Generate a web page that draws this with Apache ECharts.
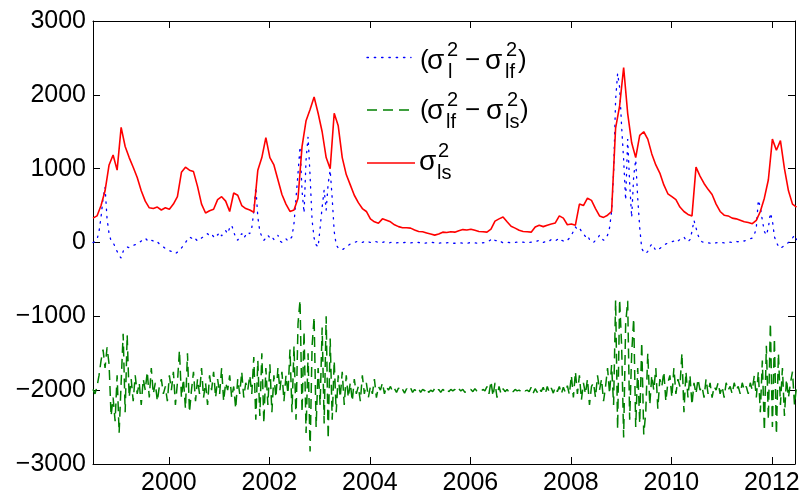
<!DOCTYPE html>
<html>
<head>
<meta charset="utf-8">
<script src="https://cdn.jsdelivr.net/npm/echarts@6/dist/echarts.min.js"></script>
<style>
html,body{margin:0;padding:0;background:#fff;}
#chart{width:804px;height:498px;}
</style>
</head>
<body>
<div id="chart"></div>
<script>
// ---- data ----
const xStart = 1998.49;
const xEnd = 2012.46;
const fineStep = 0.04;   // years between samples for the two difference series
const redStep = 0.08;    // years between samples for sigma_ls^2
const xTickYears = [2000, 2002, 2004, 2006, 2008, 2010, 2012];
const yTicks = [-3000, -2000, -1000, 0, 1000, 2000, 3000];

const blueVals = [
 0, 10, 40, 150, 345, 600, 750, 320, 120, 20,
 0, -60, -120, -180, -210, -120, -80, -60, -70, -50,
 -40, -30, -10, 0, 20, 40, 60, 30, 50, 30,
 20, 0, 10, -20, -40, -60, -80, -100, -110, -120,
 -140, -150, -130, -100, -75, -40, 0, 40, 75, 60,
 30, 50, 20, 40, 60, 80, 100, 120, 90, 110,
 80, 120, 100, 140, 90, 130, 160, 120, 200, 235,
 150, 60, 30, 80, 120, 60, 100, 140, 120, 200,
 420, 750, 345, 150, 80, 30, 60, 100, 60, 80,
 40, 60, 100, 20, 0, 30, 50, 20, 40, 80,
 260, 600, 940, 1300, 700, 400, 1120, 1430, 900, 300,
 60, -30, -60, 200, 480, 710, 440, 800, 980, 600,
 150, -30, -75, -90, -100, -80, -60, -40, -20, -10,
 0, 10, 20, 10, 0, 15, 20, 10, 0, 10,
 20, 10, 0, -10, 0, 10, 0, -10, 0, 10,
 0, -5, 0, 5, -5, 0, 5, 0, -5, 0,
 0, 5, 0, -5, 0, -10, -5, 0, 5, 0,
 -5, 0, -10, -5, 0, -10, -5, 0, -5, -10,
 -10, -5, 0, -5, -10, -5, -10, -5, 0, 0,
 -5, -10, -5, 0, -5, 0, 10, 20, 40, 60,
 30, 20, 0, 10, -5, 0, 5, 0, -5, 0,
 0, 5, 0, 0, 5, 0, -5, 0, 5, 0,
 10, 20, 30, 10, 0, 10, 30, 20, 40, 30,
 20, 40, 60, 30, 20, 40, 30, 60, 100, 150,
 210, 180, 200, 150, 120, 80, 100, 40, 10, 0,
 30, 50, 100, 60, 30, 50, 100, 200, 420, 940,
 1930, 2290, 2100, 1565, 1120, 575, 1400, 800, 340, 900,
 1120, 600, 200, -80, -130, -150, -120, -60, -20, -60,
 -110, -100, -80, -60, -40, -20, -10, 0, 10, 20,
 0, 20, 40, 60, 75, 30, 10, 40, 150, 300,
 200, 100, 40, 10, 0, 5, -5, -10, 0, -10,
 -5, 0, 5, 0, -5, 0, 10, 5, 0, 10,
 15, 10, 20, 30, 20, 30, 40, 50, 60, 100,
 200, 575, 480, 300, 150, 100, 200, 400, 300, 80,
 0, -50, -80, -60, -40, -20, 0, 20, 60, 100,
 40
];

const greenVals = [
 -1990, -2050, -1950, -1800, -1600, -1450, -1700, -1420, -1650, -2350,
 -2100, -2420, -1800, -2580, -1900, -1235, -2300, -1250, -2100, -1850,
 -2150, -1800, -2050, -1900, -2200, -1850, -2000, -1750, -2100, -1700,
 -2050, -1900, -2150, -1950, -1850, -2050, -1950, -2150, -1800, -2000,
 -1750, -2200, -1900, -1460, -2100, -1850, -2250, -1500, -2300, -2000,
 -1750, -2150, -1850, -2050, -1700, -2100, -1900, -2200, -1800, -2000,
 -1750, -2100, -1850, -2050, -1700, -2150, -1900, -2000, -1800, -2100,
 -1950, -2250, -1850, -2050, -1750, -2100, -1900, -2000, -1800, -2050,
 -1550, -2400, -1600, -2350, -1500, -2450, -1700, -2200, -1650, -2300,
 -1800, -2100, -1700, -2000, -1750, -2150, -1800, -2050, -1450, -2300,
 -1400, -2400, -1100, -780, -2300, -1200, -2580, -1500, -2830, -1400,
 -1010, -2500, -1700, -2200, -1150, -2450, -1000, -2660, -1300, -2400,
 -1600, -2300, -1800, -2100, -1750, -2200, -1800, -2100, -1900, -2150,
 -1850, -2050, -1950, -2150, -1800, -2050, -1900, -2100, -1950, -2050,
 -1850, -2100, -1950, -2000, -1900, -2050, -1950, -2000, -1950, -2020,
 -1980, -2030, -1970, -2020, -1990, -2040, -1980, -2010, -1970, -2030,
 -1990, -2020, -1980, -2030, -1990, -2010, -1970, -2030, -2000, -2020,
 -1980, -2020, -1990, -2030, -1990, -2010, -1980, -2020, -1990, -2010,
 -1990, -2020, -1980, -2010, -1990, -2030, -2000, -2010, -1990, -2020,
 -1980, -2010, -2000, -2020, -1990, -2010, -1950, -2050, -1880, -2080,
 -1900, -2100, -1950, -2050, -1980, -2020, -1990, -2030, -2000, -2020,
 -1990, -2010, -2000, -2020, -1990, -2010, -2000, -2020, -1960, -2040,
 -1980, -2030, -1970, -2020, -1960, -2050, -1950, -2030, -1970, -2040,
 -1960, -2020, -1950, -2050, -1960, -2030, -1940, -2060, -1800, -2100,
 -1750, -2050, -1800, -2130, -1900, -2050, -1850, -2200, -1950, -1900,
 -2100, -1800, -2000, -1850, -2150, -1950, -1700, -2050, -1660, -2200,
 -780, -2530, -770, -1400, -2640, -1100, -790, -2400, -1500, -1030,
 -2500, -1700, -2450, -1350, -2600, -2300, -1500, -2200, -1800, -2000,
 -1700, -2250, -1850, -1950, -1750, -2150, -1900, -1800, -2100, -1700,
 -2050, -1850, -1950, -1500, -2300, -1750, -2100, -1800, -2200, -1900,
 -2050, -1850, -2000, -1950, -2100, -1850, -2050, -1900, -2100, -1950,
 -2000, -1900, -2050, -1950, -2100, -1900, -2000, -1950, -2050, -1900,
 -2000, -1950, -2050, -1900, -2000, -1950, -2050, -1900, -2000, -1800,
 -2100, -1750, -2300, -1600, -2550, -1400, -2400, -1090, -2500, -1300,
 -2600, -1500, -2200, -1700, -2350, -1850, -2100, -1900, -1750, -2200,
 -1950
];

const redVals = [
 330, 360, 500, 700, 1050, 1185, 980, 1560, 1300, 1150,
 1020, 880, 700, 560, 470, 460, 480, 440, 470, 450,
 520, 620, 950, 1020, 980, 960, 760, 520, 400, 430,
 450, 580, 620, 560, 420, 670, 640, 500, 460, 440,
 410, 980, 1150, 1420, 1150, 1050, 850, 650, 520, 420,
 440, 600, 1300, 1650, 1800, 1970, 1750, 1500, 1150, 1000,
 1750, 1580, 1150, 920, 780, 640, 540, 460, 420, 320,
 280, 260, 320, 300, 280, 240, 215, 200, 200, 195,
 170, 150, 145, 130, 115, 100, 115, 140, 135, 145,
 140, 160, 175, 170, 180, 165, 150, 145, 140, 180,
 290, 320, 345, 280, 220, 195, 165, 150, 145, 140,
 210, 235, 215, 235, 250, 265, 360, 330, 240, 250,
 235, 520, 500, 600, 570, 460, 360, 340, 370, 420,
 1550, 1850, 2370, 1750, 1350, 1150, 1450, 1500, 1400, 1200,
 1050, 940, 780, 660, 620, 580, 480, 420, 380, 360,
 1020, 900, 800, 720, 650, 520, 420, 370, 360, 330,
 320, 300, 280, 270, 255, 300, 420, 600, 850, 1400,
 1250, 1380, 1000, 700, 520, 480
];

// ---- build chart ----
const toPairs = (vals, step) => vals.map((v, i) => [xStart + i * step, v]);
const FONT = '"Liberation Sans", Arial, Helvetica, sans-serif';
const minusFmt = v => String(v).replace('-', '\u2212');

const BLUE = '#0000ff', GREEN = '#008000', RED = '#ff0000';
const blueStyle = {color: BLUE, width: 1.3, type: [1.4, 5.9], cap: 'round'};
const greenStyle = {color: GREEN, width: 1.5, type: [10, 6]};
const redStyle = {color: RED, width: 1.6, type: 'solid'};

function legendTexts() {
  const els = [];
  const add = (t, x, y, size) => els.push({
    type: 'text', x: x, y: y, z: 100,
    style: {text: t, fontSize: size, fontFamily: FONT, fill: '#000', align: 'left', verticalAlign: 'middle'}
  });
  const M = 26, S = 20;
  // row 1: (σ_l^2 − σ_lf^2)
  let c = 61;
  add('(', 420, c, M); add('\u03c3', 427, c, 28); add('2', 447, c - 11, S); add('l', 448, c + 11, S);
  add('\u2212', 465, c, M); add('\u03c3', 485, c, 28); add('2', 506, c - 11, S); add('lf', 505, c + 11, S);
  add(')', 518, c, M);
  // row 2: (σ_lf^2 − σ_ls^2)
  c = 111;
  add('(', 420, c, M); add('\u03c3', 427, c, 28); add('2', 447, c - 11, S); add('lf', 446, c + 11, S);
  add('\u2212', 465, c, M); add('\u03c3', 486, c, 28); add('2', 507, c - 11, S); add('ls', 505, c + 11, S);
  add(')', 520, c, M);
  // row 3: σ_ls^2
  c = 162;
  add('\u03c3', 419, c, 28); add('2', 438, c - 11, S); add('ls', 437, c + 11, S);
  return els;
}

const graphics = [
  {type: 'line', z: 100, shape: {x1: 367, y1: 57.5, x2: 411, y2: 57.5}, style: {stroke: BLUE, lineWidth: 1.3, lineDash: [1.4, 5.9], lineCap: 'round'}},
  {type: 'line', z: 100, shape: {x1: 367, y1: 110, x2: 415, y2: 110}, style: {stroke: GREEN, lineWidth: 1.5, lineDash: [10, 6]}},
  {type: 'line', z: 100, shape: {x1: 367, y1: 163, x2: 415, y2: 163}, style: {stroke: RED, lineWidth: 1.6}}
].concat(legendTexts());

const axisLineStyle = {show: true, onZero: false, lineStyle: {color: '#000', width: 1}};
const tickStyle = {show: true, inside: true, length: 7, lineStyle: {color: '#000', width: 1}};

const option = {
  animation: false,
  backgroundColor: '#fff',
  grid: {left: 93, right: 9, top: 21, bottom: 34, containLabel: false},
  xAxis: [
    {type: 'value', position: 'bottom', min: xStart, max: xEnd,
     axisLine: axisLineStyle, splitLine: {show: false},
     axisTick: Object.assign({}, tickStyle, {customValues: xTickYears}),
     axisLabel: {customValues: xTickYears, fontSize: 25, fontFamily: FONT, color: '#000', margin: 7,
                 formatter: v => String(Math.round(v))}},
    {type: 'value', position: 'top', min: xStart, max: xEnd,
     axisLine: axisLineStyle, splitLine: {show: false},
     axisTick: Object.assign({}, tickStyle, {customValues: xTickYears}),
     axisLabel: {show: false}}
  ],
  yAxis: [
    {type: 'value', position: 'left', min: -3000, max: 3000, interval: 1000,
     axisLine: axisLineStyle, splitLine: {show: false}, axisTick: tickStyle,
     axisLabel: {fontSize: 25, fontFamily: FONT, color: '#000', margin: 7, formatter: minusFmt}},
    {type: 'value', position: 'right', min: -3000, max: 3000, interval: 1000,
     axisLine: axisLineStyle, splitLine: {show: false}, axisTick: tickStyle,
     axisLabel: {show: false}}
  ],
  series: [
    {name: 'blue', type: 'line', data: toPairs(blueVals, fineStep), showSymbol: false, symbol: 'none',
     lineStyle: blueStyle, silent: true},
    {name: 'green', type: 'line', data: toPairs(greenVals, fineStep), showSymbol: false, symbol: 'none',
     lineStyle: greenStyle, silent: true},
    {name: 'red', type: 'line', data: toPairs(redVals, redStep), showSymbol: false, symbol: 'none',
     lineStyle: redStyle, silent: true}
  ],
  graphic: graphics
};

const chart = echarts.init(document.getElementById('chart'), null, {renderer: 'canvas'});
chart.setOption(option);
</script>
</body>
</html>
